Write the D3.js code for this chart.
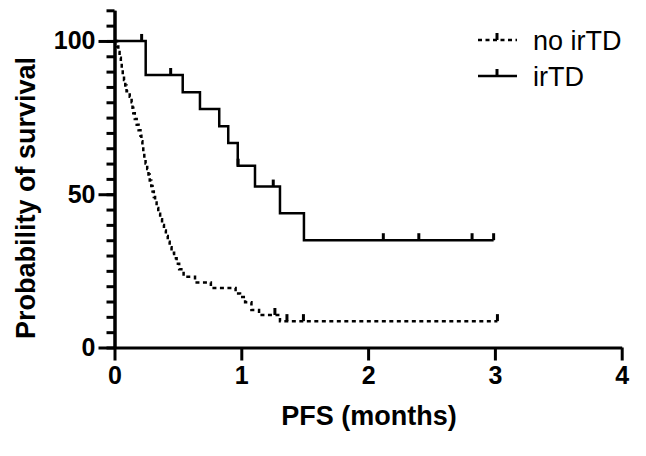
<!DOCTYPE html>
<html>
<head>
<meta charset="utf-8">
<script src="https://cdn.jsdelivr.net/npm/d3@7"></script>
<style>
  html, body { margin: 0; padding: 0; background: #fff; }
  svg { display: block; }
</style>
</head>
<body>
<svg id="chart" width="646" height="456"></svg>
<script>
// ---- data ----
const irtdTime = [0, 0.246, 0.538, 0.674, 0.826, 0.897, 0.972, 1.108, 1.305, 1.494, 2.99];
const irtdSurv = [100, 88.9, 83.3, 77.8, 72.2, 66.7, 59.3, 52.5, 43.8, 35.0, 35.0];
const irtdCensorTime = [0.214, 0.443, 0.975, 1.252, 2.12, 2.40, 2.82, 2.99];

const noTime = [0, 0.020, 0.030, 0.040, 0.050, 0.057, 0.065, 0.075, 0.085, 0.095, 0.120, 0.135,
  0.142, 0.148, 0.160, 0.175, 0.190, 0.205, 0.212, 0.220, 0.227, 0.235, 0.245, 0.258, 0.268,
  0.278, 0.290, 0.300, 0.310, 0.320, 0.332, 0.345, 0.360, 0.375, 0.390, 0.405, 0.420, 0.435,
  0.450, 0.470, 0.490, 0.510, 0.545, 0.635, 0.760, 0.955, 0.990, 1.030, 1.080, 1.140, 1.305, 3.02];
const noSurv = [100, 98.2, 96.4, 94.5, 92.7, 90.9, 89.1, 87.3, 85.5, 83.6, 81.8, 80.0,
  78.2, 76.4, 74.5, 72.7, 70.9, 69.1, 67.3, 65.5, 63.6, 61.8, 60.0, 58.2, 56.4,
  54.5, 52.7, 50.9, 49.1, 47.3, 45.5, 43.6, 41.8, 40.0, 38.2, 36.4, 34.5, 32.7,
  30.9, 29.1, 27.3, 25.5, 23.1, 21.2, 19.4, 17.6, 16.5, 14.8, 12.2, 10.6, 8.6, 8.6];
const noCensorTime = [1.265, 1.36, 1.49, 3.02];

const xTicks = [0, 1, 2, 3, 4];
const yMajorTicks = [0, 50, 100];
const yMinorTicks = d3.range(0, 111, 5);
const seriesNames = ["no irTD", "irTD"];
const xTitle = "PFS (months)";
const yTitle = "Probability of survival";

// ---- chart ----
const svg = d3.select("#chart");
const x = d3.scaleLinear().domain([0, 4]).range([114.5, 621.7]);
const y = d3.scaleLinear().domain([0, 110]).range([347.5, 10.3]);

const FONT = "'Liberation Sans', Arial, Helvetica, sans-serif";

function stepValue(times, surv, t) {
  let v = surv[0];
  for (let i = 0; i < times.length; i++) { if (times[i] <= t + 1e-9) v = surv[i]; }
  return v;
}

const line = d3.line().x(d => x(d[0])).y(d => y(d[1])).curve(d3.curveStepAfter);

const series = [
  { time: noTime, surv: noSurv, cens: noCensorTime, dash: "4,3.5" },
  { time: irtdTime, surv: irtdSurv, cens: irtdCensorTime, dash: null }
];

const plot = svg.append("g");
series.forEach(s => {
  const pts = s.time.map((t, i) => [t, s.surv[i]]);
  plot.append("path")
    .attr("d", line(pts))
    .attr("fill", "none")
    .attr("stroke", "#000")
    .attr("stroke-width", 2.5)
    .attr("stroke-dasharray", s.dash);
  plot.selectAll(null)
    .data(s.cens)
    .enter().append("line")
    .attr("x1", d => x(d)).attr("x2", d => x(d))
    .attr("y1", d => y(stepValue(s.time, s.surv, d)))
    .attr("y2", d => y(stepValue(s.time, s.surv, d)) - 7)
    .attr("stroke", "#000")
    .attr("stroke-width", 3);
});

// y axis minor ticks
const yMinor = svg.append("g")
  .attr("transform", `translate(${x(0)},0)`)
  .call(d3.axisLeft(y).tickValues(yMinorTicks).tickSize(8).tickSizeOuter(0).tickFormat(""));
// y axis major ticks
const yMajor = svg.append("g")
  .attr("transform", `translate(${x(0)},0)`)
  .call(d3.axisLeft(y).tickValues(yMajorTicks).tickSize(16).tickSizeOuter(0).tickPadding(3));
// x axis
const xAx = svg.append("g")
  .attr("transform", `translate(0,${y(0)})`)
  .call(d3.axisBottom(x).tickValues(xTicks).tickSize(13).tickSizeOuter(0).tickPadding(6).tickFormat(d3.format("d")));

[yMinor, yMajor, xAx].forEach(g => {
  g.selectAll(".domain").attr("stroke", "#000").attr("stroke-width", 3);
  g.selectAll(".tick line").attr("stroke", "#000").attr("stroke-width", 3);
  g.selectAll(".tick text")
    .attr("fill", "#000")
    .style("font-family", FONT)
    .style("font-weight", "bold")
    .style("font-size", "25px");
});

// axis titles
svg.append("text")
  .attr("x", 369).attr("y", 425)
  .attr("text-anchor", "middle")
  .style("font-family", FONT).style("font-weight", "bold").style("font-size", "27px")
  .text(xTitle);

svg.append("text")
  .attr("transform", "translate(35,198) rotate(-90)")
  .attr("text-anchor", "middle")
  .style("font-family", FONT).style("font-weight", "bold").style("font-size", "27px")
  .text(yTitle);

// legend
const legend = svg.append("g");
const legY = [40, 76];
series.forEach((s, i) => {
  const yy = legY[i];
  legend.append("line")
    .attr("x1", 478).attr("x2", 517).attr("y1", yy).attr("y2", yy)
    .attr("stroke", "#000").attr("stroke-width", 2.5)
    .attr("stroke-dasharray", s.dash);
  legend.append("line")
    .attr("x1", 497).attr("x2", 497).attr("y1", yy).attr("y2", yy - 7)
    .attr("stroke", "#000").attr("stroke-width", 3);
  legend.append("text")
    .attr("x", 533).attr("y", yy + 10)
    .style("font-family", FONT).style("font-size", "27px")
    .attr("fill", "#000")
    .text(seriesNames[i]);
});
</script>
</body>
</html>
